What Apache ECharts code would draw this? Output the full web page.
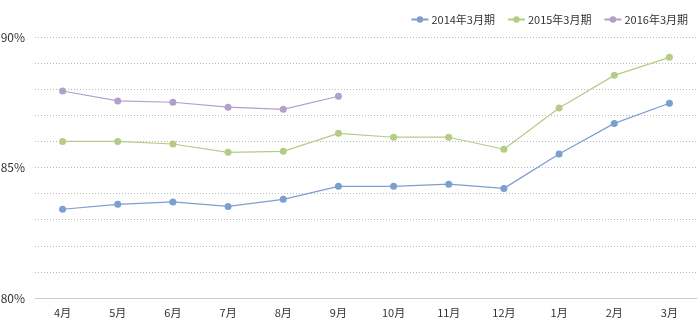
<!DOCTYPE html>
<html><head><meta charset="utf-8">
<script src="https://cdn.jsdelivr.net/npm/echarts@6/dist/echarts.min.js"></script>
<style>html,body{margin:0;padding:0;background:#fff}#c{width:700px;height:328px}</style>
</head><body><div id="c"></div>
<script>
const categories = ['4月','5月','6月','7月','8月','9月','10月','11月','12月','1月','2月','3月'];
const seriesNames = ['2014年3月期','2015年3月期','2016年3月期'];
const fy2014 = [83.40, 83.59, 83.68, 83.51, 83.78, 84.28, 84.28, 84.36, 84.20, 85.52, 86.69, 87.46];
const fy2015 = [86.00, 86.00, 85.90, 85.58, 85.62, 86.31, 86.16, 86.16, 85.70, 87.28, 88.53, 89.22];
const fy2016 = [87.93, 87.55, 87.50, 87.31, 87.23, 87.73];
const colors = ['#7b9fcf', '#b5cc86', '#b39fcc'];
const font = '"Noto Sans CJK JP", "Noto Sans", sans-serif';

const chart = echarts.init(document.getElementById('c'));
const mk = (name, data, i) => ({
  name, type: 'line', data, symbol: 'circle', symbolSize: 7,
  itemStyle: { color: colors[i] },
  lineStyle: { color: colors[i], width: 1.2 },
  emphasis: { disabled: true }
});
chart.setOption({
  animation: false,
  textStyle: { fontFamily: font },
  legend: {
    right: 7, top: 9, itemWidth: 17, itemHeight: 8, itemGap: 12,
    textStyle: { fontSize: 11, color: '#333', fontFamily: font, padding: [0, 0, 0, -2] },
    data: seriesNames
  },
  grid: { left: 35, right: 3, top: 37, bottom: 30, outerBoundsMode: 'none', containLabel: false },
  xAxis: {
    type: 'category', data: categories, boundaryGap: true,
    axisLine: { lineStyle: { color: '#ccc' } },
    axisTick: { lineStyle: { color: '#ccc' }, length: 5 },
    axisLabel: { color: '#333', fontSize: 11, margin: 9, fontFamily: font }
  },
  yAxis: {
    type: 'value', min: 80, max: 90, interval: 1,
    axisLine: { show: false }, axisTick: { show: false },
    axisLabel: {
      color: '#333', fontSize: 12, margin: 10,
      formatter: v => (v % 5 === 0 ? v + '%' : '')
    },
    splitLine: { lineStyle: { color: '#bbb', type: [1, 2], width: 1 } }
  },
  series: [mk(seriesNames[0], fy2014, 0), mk(seriesNames[1], fy2015, 1), mk(seriesNames[2], fy2016, 2)]
});
</script></body></html>
